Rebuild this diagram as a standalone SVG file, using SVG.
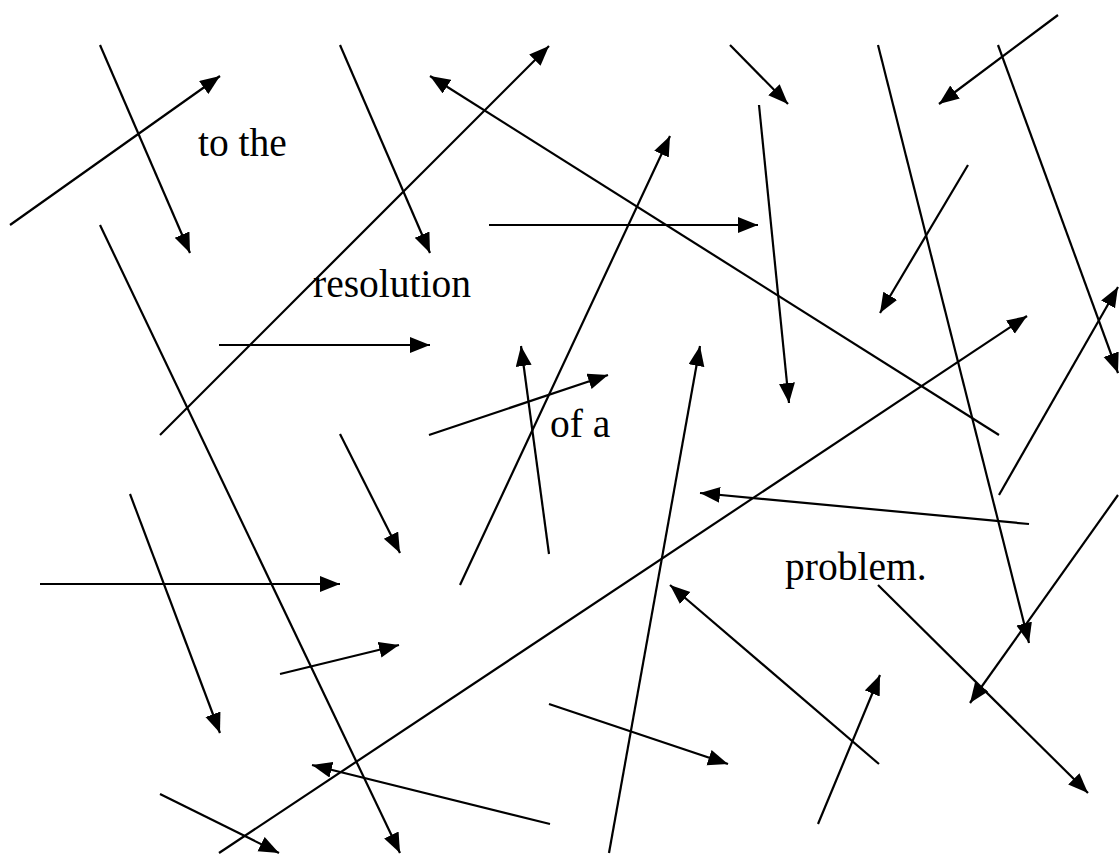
<svg xmlns="http://www.w3.org/2000/svg" width="1119" height="856" viewBox="0 0 1119 856">
<style>
.a{stroke:#000;stroke-width:2.2;fill:none;marker-end:url(#ah)}
.t{font-family:"Liberation Serif","Times New Roman",serif;font-size:39.5px;fill:#000}
</style>
<defs>
<marker id="ah" markerUnits="userSpaceOnUse" markerWidth="21" markerHeight="17" refX="20" refY="8" orient="auto">
<path d="M0,0 L20,8 L0,16 z" fill="#000"/>
</marker>
</defs>
<rect width="1119" height="856" fill="#fff"/>
<g id="connectors">
<line class="a" x1="10" y1="225" x2="220" y2="76"/>
<line class="a" x1="100" y1="45" x2="190" y2="253"/>
<line class="a" x1="100" y1="225" x2="400" y2="853"/>
<line class="a" x1="340" y1="45" x2="430" y2="253"/>
<line class="a" x1="160" y1="435" x2="549" y2="46"/>
<line class="a" x1="999" y1="435" x2="430" y2="76"/>
<line class="a" x1="489" y1="225" x2="758" y2="225"/>
<line class="a" x1="460" y1="585" x2="670" y2="136"/>
<line class="a" x1="730" y1="45" x2="788" y2="104"/>
<line class="a" x1="759" y1="105" x2="789" y2="403"/>
<line class="a" x1="878" y1="45" x2="1029" y2="643"/>
<line class="a" x1="1058" y1="15" x2="939" y2="104"/>
<line class="a" x1="998" y1="45" x2="1118" y2="373"/>
<line class="a" x1="968" y1="165" x2="880" y2="313"/>
<line class="a" x1="219" y1="345" x2="430" y2="345"/>
<line class="a" x1="429" y1="435" x2="608" y2="375"/>
<line class="a" x1="549" y1="554" x2="521" y2="346"/>
<line class="a" x1="609" y1="853" x2="700" y2="346"/>
<line class="a" x1="219" y1="853" x2="1027" y2="316"/>
<line class="a" x1="1029" y1="524" x2="700" y2="493"/>
<line class="a" x1="999" y1="495" x2="1118" y2="287"/>
<line class="a" x1="1118" y1="495" x2="970" y2="703"/>
<line class="a" x1="878" y1="585" x2="1088" y2="793"/>
<line class="a" x1="40" y1="584" x2="340" y2="584"/>
<line class="a" x1="340" y1="434" x2="400" y2="553"/>
<line class="a" x1="130" y1="494" x2="220" y2="733"/>
<line class="a" x1="280" y1="674" x2="399" y2="645"/>
<line class="a" x1="550" y1="824" x2="312" y2="765"/>
<line class="a" x1="160" y1="794" x2="279" y2="853"/>
<line class="a" x1="549" y1="704" x2="728" y2="764"/>
<line class="a" x1="879" y1="764" x2="670" y2="585"/>
<line class="a" x1="818" y1="824" x2="880" y2="675"/>
</g>
<g id="text-to-the"><text class="t" x="198" y="156">to the</text></g>
<g id="text-resolution"><text class="t" x="313" y="297">resolution</text></g>
<g id="text-of-a"><text class="t" x="550" y="437">of a</text></g>
<g id="text-problem"><text class="t" x="785" y="580">problem.</text></g>
</svg>
